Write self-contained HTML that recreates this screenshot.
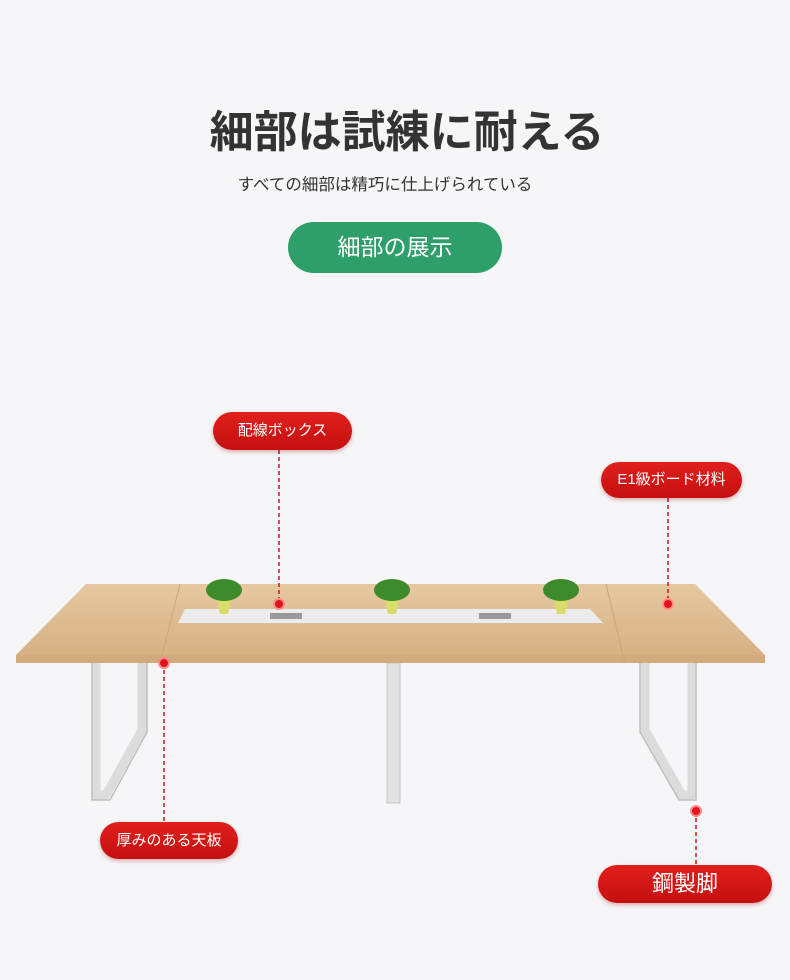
<!DOCTYPE html>
<html><head><meta charset="utf-8"><style>
body{margin:0;width:790px;height:980px;background:#f6f6f8;position:relative;overflow:hidden;font-family:"Liberation Sans","Noto Sans CJK JP",sans-serif}
.a{position:absolute}
.t{left:0;width:790px;text-align:center}
.pill{position:absolute;background:linear-gradient(180deg,#e0201c,#c40f10);color:#fff;border-radius:20px;text-align:center;box-shadow:0 2px 4px rgba(150,0,0,.3)}
</style></head><body>
<div class="a t" style="top:96px;left:12px;font-size:44px;font-weight:bold;color:#333">細部は試練に耐える</div>
<div class="a t" style="top:171px;left:-10px;font-size:16.5px;color:#333">すべての細部は精巧に仕上げられている</div>
<div class="a" style="left:288px;top:222px;width:214px;height:51px;background:#2e9e6a;border-radius:26px;color:#fff;font-size:23px;line-height:51px;text-align:center">細部の展示</div>

<svg class="a" style="left:0;top:0" width="790" height="980">
<defs><linearGradient id="w" x1="0" y1="0" x2="0" y2="1"><stop offset="0" stop-color="#e6c8a0"/><stop offset="1" stop-color="#d6b185"/></linearGradient></defs>
<g fill="none" stroke="#dcdcdc" stroke-width="9" stroke-linejoin="round">
<path d="M96 663 V795 H106 L142 730 V663"/>
<path d="M692 663 V795 H682 L645 730 V663"/>
</g>
<g fill="none" stroke="#bfbfbf" stroke-width="1.5">
<path d="M92 663 V800 H110 L147 732 V663"/><path d="M696 663 V800 H679 L640 732 V663"/>
</g>
<rect x="387" y="663" width="13" height="140" fill="#e2e2e2" stroke="#c4c4c4"/>
<polygon points="86,584 695,584 765,655 16,655" fill="url(#w)"/>
<rect x="16" y="655" width="749" height="8" fill="#d2aa7c"/>
<line x1="180" y1="584" x2="160" y2="663" stroke="#c9a57a" stroke-width="1"/>
<line x1="606" y1="584" x2="625" y2="663" stroke="#c9a57a" stroke-width="1"/>
<polygon points="185,609 590,609 603,623 178,623" fill="#ececec"/>
<rect x="270" y="613" width="32" height="6" fill="#999"/><rect x="479" y="613" width="32" height="6" fill="#999"/>
<g fill="#d8dc6a"><path d="M217 600 h14 l-3 14 h-8z"/><path d="M385 600 h14 l-3 14 h-8z"/><path d="M554 600 h14 l-3 14 h-8z"/></g>
<g fill="#3d8a2a"><ellipse cx="224" cy="590" rx="18" ry="11"/><ellipse cx="392" cy="590" rx="18" ry="11"/><ellipse cx="561" cy="590" rx="18" ry="11"/></g>
<g stroke="#d0141a" stroke-width="1.5" stroke-dasharray="4,3" fill="none">
<line x1="279" y1="450" x2="279" y2="604"/><line x1="668" y1="498" x2="668" y2="604"/>
<line x1="164" y1="663" x2="164" y2="822"/><line x1="696" y1="811" x2="696" y2="865"/>
</g>
<g fill="#e0141a" stroke="#ff8a8a" stroke-width="2"><circle cx="279" cy="604" r="5"/><circle cx="668" cy="604" r="5"/><circle cx="164" cy="663" r="5"/><circle cx="696" cy="811" r="5"/></g>
</svg>

<div class="pill" style="left:213px;top:412px;width:139px;height:38px;line-height:38px;font-size:15px">配線ボックス</div>
<div class="pill" style="left:601px;top:462px;width:141px;height:36px;line-height:36px;font-size:15px">E1級ボード材料</div>
<div class="pill" style="left:100px;top:822px;width:138px;height:37px;line-height:37px;font-size:15px">厚みのある天板</div>
<div class="pill" style="left:598px;top:865px;width:174px;height:38px;line-height:38px;font-size:22px">鋼製脚</div>
</body></html>
